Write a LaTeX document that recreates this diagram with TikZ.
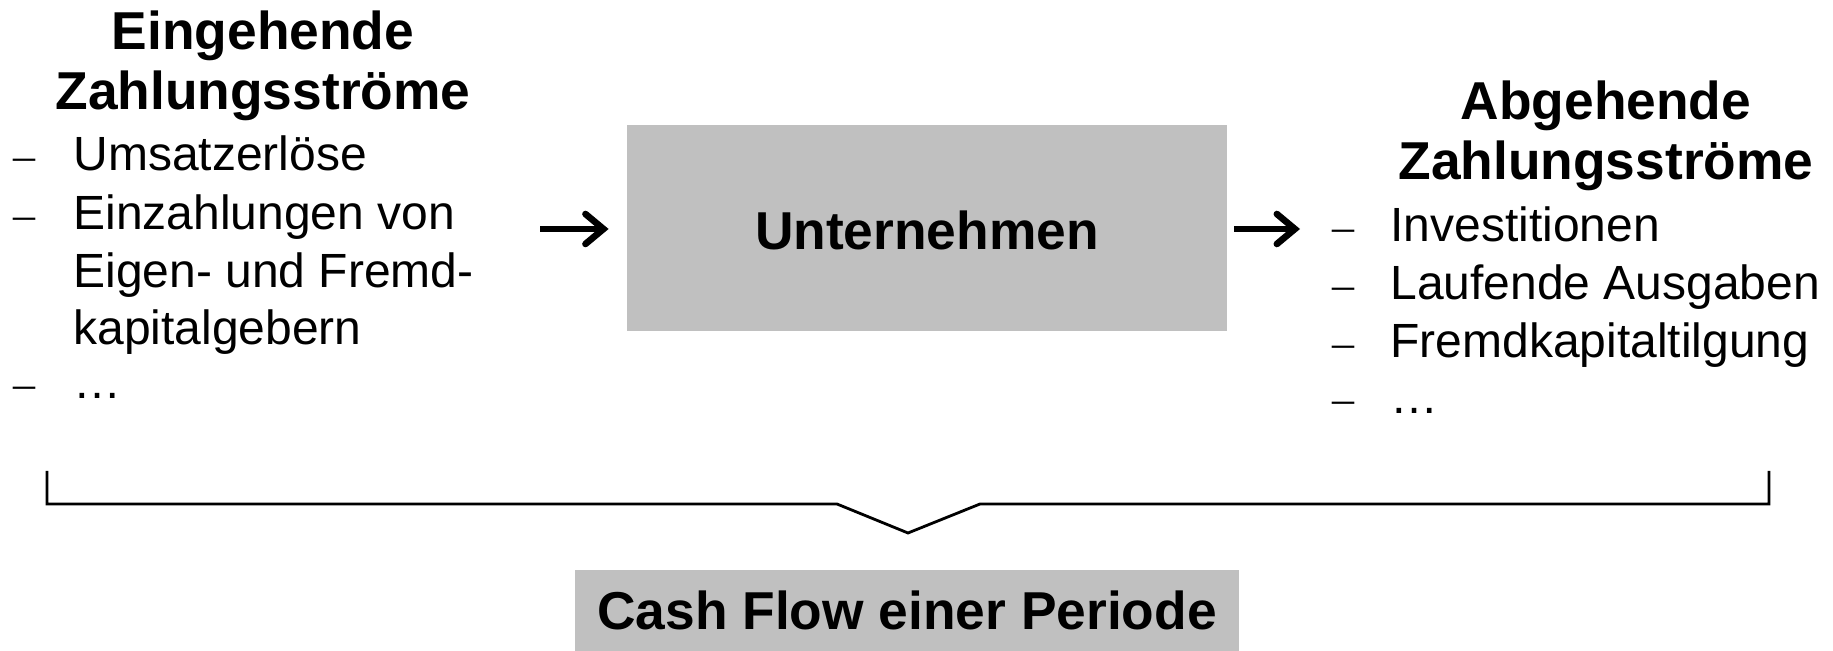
\documentclass[tikz,border=0pt]{standalone}
\usepackage{fontspec}
\setmainfont{Liberation Sans}
\newfontfamily\dashfont{Liberation Serif}
\usetikzlibrary{arrows.meta}
\definecolor{boxgray}{RGB}{192,192,192}
\begin{document}
\begin{tikzpicture}[x=0.5pt,y=-0.5pt,
  head/.style={font=\fontsize{26.67}{30}\selectfont\bfseries, inner sep=0pt, anchor=base},
  item/.style={font=\fontsize{24}{28.8}\selectfont, inner sep=0pt, anchor=base west},
  bul/.style={font=\dashfont\fontsize{22}{26}\selectfont, inner sep=0pt, anchor=base west},
  flow/.style={line width=3.3pt, -{Straight Barb[length=9pt,width=15pt,line cap=round]}},
  graybox/.style={fill=boxgray, draw=none, inner sep=0pt}]
\useasboundingbox (0,0) rectangle (1833,651);
% left column
\node[head] (inH1) at (263,50) {Eingehende};
\node[head] (inH2) at (263,110) {Zahlungsströme};
\node[bul] (inB1) at (13,171) {–};
\node[item] (inT1) at (73,171) {Umsatzerlöse};
\node[bul] (inB2) at (13,230) {–};
\node[item] (inT2) at (73,230) {Einzahlungen von};
\node[item] (inT3) at (73,288) {Eigen- und Fremd-};
\node[item] (inT4) at (73,345) {kapitalgebern};
\node[bul] (inB3) at (13,399) {–};
\node[item] (inT5) at (73,399) {…};
% central box
\node[graybox, minimum width=300pt, minimum height=103pt] (firm) at (927,228) {};
\node[head] (firmT) at (927,250) {Unternehmen};
% arrows
\coordinate (inStart) at (540,229);
\coordinate (outEnd) at (1300,229);
\draw[flow, shorten >=9pt] (inStart) -- (inStart -| firm.west);
\draw[flow, shorten <=3.5pt] (firm.east |- outEnd) -- (outEnd);
% right column
\node[head] (outH1) at (1606,120) {Abgehende};
\node[head] (outH2) at (1606,180) {Zahlungsströme};
\node[bul] (outB1) at (1332,242) {–};
\node[item] (outT1) at (1390,242) {Investitionen};
\node[bul] (outB2) at (1332,300) {–};
\node[item] (outT2) at (1390,300) {Laufende Ausgaben};
\node[bul] (outB3) at (1332,358) {–};
\node[item] (outT3) at (1390,358) {Fremdkapitaltilgung};
\node[bul] (outB4) at (1332,414) {–};
\node[item] (outT4) at (1390,414) {…};
% brace
\draw[line width=1.4pt] (47,471) -- (47,504) -- (837,504) -- (908,533) -- (980,504) -- (1769,504) -- (1769,471);
% result box
\node[graybox, minimum width=332pt, minimum height=40.5pt] (cash) at (907,610.5) {};
\node[head] (cashT) at (907,630) {Cash Flow einer Periode};
\end{tikzpicture}
\end{document}
